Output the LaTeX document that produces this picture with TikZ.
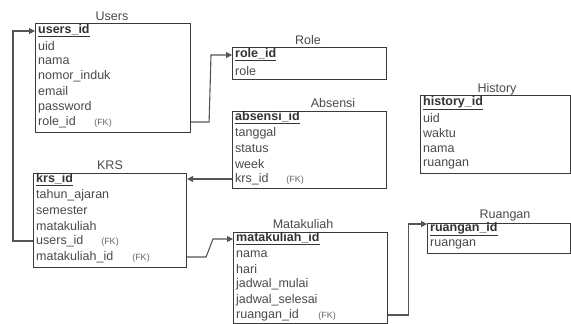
\documentclass[tikz,border=0pt]{standalone}
\usepackage{fontspec}
\setmainfont{Liberation Sans}
\usetikzlibrary{arrows.meta}
\definecolor{boxc}{HTML}{3A3A3A}
\definecolor{txtc}{HTML}{4A4A4A}
\definecolor{hdrc}{HTML}{333333}
\definecolor{fkc}{HTML}{666666}
\definecolor{connc}{HTML}{555555}
\begin{document}
\begin{tikzpicture}[x=1pt,y=-1pt,
  tbl/.style={draw=boxc, line width=1.1pt, fill=white, inner sep=0pt, anchor=north west},
  ttl/.style={text=txtc, font=\fontsize{12.5}{14}\selectfont, inner sep=0pt},
  fld/.style={anchor=west, text=txtc, font=\fontsize{12.5}{14}\selectfont, inner sep=0pt},
  pk/.style={anchor=west, text=hdrc, font=\fontsize{12.5}{14}\selectfont\bfseries, inner sep=0pt},
  fk/.style={text=fkc, font=\fontsize{9}{10}\selectfont, inner sep=0pt},
  conn/.style={draw=connc, line width=1.1pt, -{Triangle[length=6pt,width=6pt]}}]
\useasboundingbox (0,0) rectangle (571,324);
\fill[white] (0,0) rectangle (571,324);

% Users
\node[ttl] (usersT) at (112,16) {Users};
\node[tbl, minimum width=155pt, minimum height=109pt] (users) at (35,23) {};
\node[pk] (u1) at (38,31) {\underline{users\_id}};
\node[fld] (u2) at (38,46) {uid};
\node[fld] (u3) at (38,61) {nama};
\node[fld] (u4) at (38,76) {nomor\_induk};
\node[fld] (u5) at (38,91) {email};
\node[fld] (u6) at (38,107) {password};
\node[fld] (u7) at (38,122) {role\_id};
\node[fk] (u7fk) at (103,123) {(FK)};

% Role
\node[ttl] (roleT) at (308,40) {Role};
\node[tbl, minimum width=154pt, minimum height=32pt] (role) at (232,47) {};
\node[pk] (r1) at (235,55) {\underline{role\_id}};
\node[fld] (r2) at (235,71) {role};

% Absensi
\node[ttl] (absT) at (333,103) {Absensi};
\node[tbl, minimum width=154pt, minimum height=77pt] (abs) at (232,111) {};
\node[pk] (a1) at (235,118) {\underline{absensi\_id}};
\node[fld] (a2) at (235,133) {tanggal};
\node[fld] (a3) at (235,149) {status};
\node[fld] (a4) at (235,164) {week};
\node[fld] (a5) at (235,179) {krs\_id};
\node[fk] (a5fk) at (295,180) {(FK)};

% History
\node[ttl] (histT) at (497,89) {History};
\node[tbl, minimum width=150pt, minimum height=78pt] (hist) at (420,95) {};
\node[pk] (h1) at (423,103) {\underline{history\_id}};
\node[fld] (h2) at (423,118) {uid};
\node[fld] (h3) at (423,133) {waktu};
\node[fld] (h4) at (423,149) {nama};
\node[fld] (h5) at (423,164) {ruangan};

% KRS
\node[ttl] (krsT) at (110,165) {KRS};
\node[tbl, minimum width=153pt, minimum height=94pt] (krs) at (33,173) {};
\node[pk] (k1) at (36,180) {\underline{krs\_id}};
\node[fld] (k2) at (36,195) {tahun\_ajaran};
\node[fld] (k3) at (36,211) {semester};
\node[fld] (k4) at (36,226) {matakuliah};
\node[fld] (k5) at (36,241) {users\_id};
\node[fk] (k5fk) at (110,242) {(FK)};
\node[fld] (k6) at (36,257) {matakuliah\_id};
\node[fk] (k6fk) at (141,258) {(FK)};

% Matakuliah
\node[ttl] (mkT) at (303,224) {Matakuliah};
\node[tbl, minimum width=154pt, minimum height=91pt] (mk) at (233,232) {};
\node[pk] (m1) at (236,239) {\underline{matakuliah\_id}};
\node[fld] (m2) at (236,254) {nama};
\node[fld] (m3) at (236,269) {hari};
\node[fld] (m4) at (236,284) {jadwal\_mulai};
\node[fld] (m5) at (236,300) {jadwal\_selesai};
\node[fld] (m6) at (236,315) {ruangan\_id};
\node[fk] (m6fk) at (327,316) {(FK)};

% Ruangan
\node[ttl] (ruT) at (505,215) {Ruangan};
\node[tbl, minimum width=143pt, minimum height=30pt] (ru) at (427,223) {};
\node[pk] (ru1) at (430,229) {\underline{ruangan\_id}};
\node[fld] (ru2) at (430,244) {ruangan};

% connectors
\draw[conn] (krs.west |- k5) -- ++(-20,0) |- (users.west |- u1);
\draw[conn] (users.east |- u7) -- ++(18,0) -- ([xshift=-21pt]role.west |- r1) -- (role.west |- r1);
\draw[conn] (abs.west |- a5) -- (krs.east |- a5);
\draw[conn] (krs.east |- k6) -- ++(19,0) -- ([xshift=-20pt]mk.west |- m1) -- (mk.west |- m1);
\draw[conn] (mk.east |- m6) -- ++(20,0) |- ([yshift=5pt]ru.west |- ru1);
\end{tikzpicture}
\end{document}
